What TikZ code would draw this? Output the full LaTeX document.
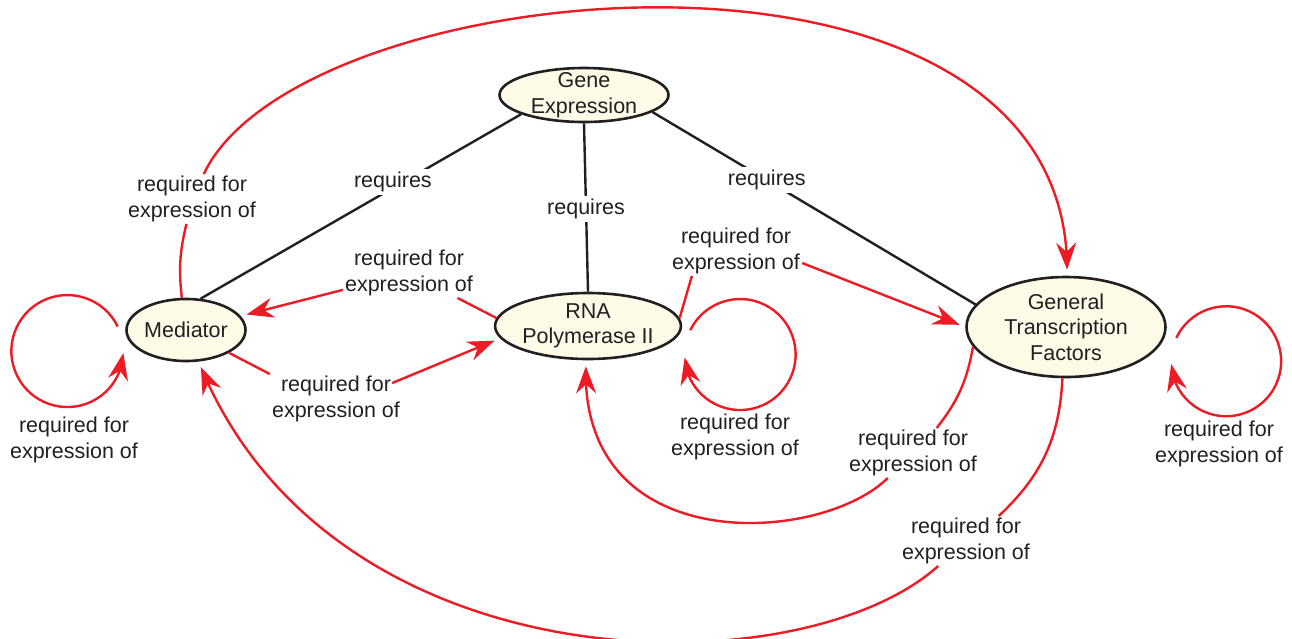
\documentclass[tikz,border=0pt]{standalone}
\usepackage{fontspec}
\setmainfont{Liberation Sans}
\usetikzlibrary{shapes.geometric,arrows.meta,bending}
\definecolor{rc}{RGB}{237,28,36}
\definecolor{tc}{RGB}{35,31,32}
\definecolor{fc}{RGB}{253,250,231}
\begin{document}
\begin{tikzpicture}[x=1pt,y=1pt,
  every node/.style={font=\fontsize{21.5}{25.5}\selectfont, text=tc},
  concept/.style={ellipse, draw=tc, line width=2.6pt, fill=fc, align=center, inner xsep=0pt, inner ysep=-6pt},
  lab/.style={align=center, inner sep=2pt},
  req/.style={fill=white, inner sep=3pt},
  blk/.style={draw=tc, line width=2.4pt},
  rel/.style={draw=rc, line width=2.4pt},
  rarr/.style={rel, -{Stealth[length=27pt,width=20pt,inset=9pt]}, shorten >=6pt}]
\useasboundingbox (0,0) rectangle (1292,-638);

% concepts
\node[concept, minimum width=169pt, minimum height=54pt] (gene) at (584,-95) {Gene\\Expression};
\node[concept, minimum width=119pt, minimum height=62pt] (med) at (186,-330) {Mediator};
\node[concept, minimum width=181pt, minimum height=66pt] (rna) at (588,-326) {RNA\\Polymerase II};
\node[concept, minimum width=199pt, minimum height=100pt] (gtf) at (1066,-327) {General\\Transcription\\Factors};

% link labels
\node[lab] (lmg) at (192,-199) {required for\\expression of};
\node[lab] (lrm) at (409,-273) {required for\\expression of};
\node[lab] (lmr) at (336,-399) {required for\\expression of};
\node[lab] (lrg) at (736,-251) {required for\\expression of};
\node[lab] (lgr) at (913,-453) {required for\\expression of};
\node[lab] (lgm) at (966,-541) {required for\\expression of};
\node[lab] (lml) at (74,-440) {required for\\expression of};
\node[lab] (lrl) at (735,-437) {required for\\expression of};
\node[lab] (lgl) at (1219,-444) {required for\\expression of};

% black "requires" links
\draw[blk] (gene.197) -- node[req, pos=0.4, yshift=6pt] (q1) {requires} (med.65);
\draw[blk] (gene.south) -- node[req, pos=0.51] (q2) {requires} (rna.north);
\draw[blk] (gene.346) -- node[req, pos=0.354] (q3) {requires} (gtf.166);

% Mediator -> GTF (over the top)
\draw[rel] (med) to[bend left=10] (lmg);
\draw[rarr] (lmg) .. controls (300,30) and (1075,100) .. (gtf);

% RNA -> Mediator
\draw[rel] (rna.175) -- (lrm);
\draw[rarr] (lrm) -- (med);

% Mediator -> RNA
\draw[rel] (med.332) -- (lmr.north west);
\draw[rarr] ([xshift=-10pt,yshift=-9pt]lmr.north east) -- (rna.188);

% RNA -> GTF
\draw[rel] (rna.5) -- ([xshift=22pt]lrg.south west);
\draw[rarr] ([yshift=-12pt]lrg.east) -- (gtf.west);

% GTF -> RNA
\draw[rel] (gtf.192) to[bend left=14] (lgr);
\draw[rarr] (lgr) .. controls (820,-545) and (575,-560) .. (rna);

% GTF -> Mediator
\draw[rel] (gtf.266) to[bend left=22] (lgm);
\draw[rarr] (lgm) .. controls (800,-690) and (330,-690) .. (med);

% self loops
\draw[rarr, shorten >=0pt] ([shift={(-7.5,3.5)}]med.west) arc[start angle=26, end angle=358, radius=56];
\draw[rarr, shorten >=0pt] ([shift={(8,-4.2)}]rna.east) arc[start angle=154, end angle=-177, radius=55.5];
\draw[rarr, shorten >=0pt] ([shift={(9.5,-11)}]gtf.east) arc[start angle=155, end angle=-177, radius=55];
\end{tikzpicture}
\end{document}
